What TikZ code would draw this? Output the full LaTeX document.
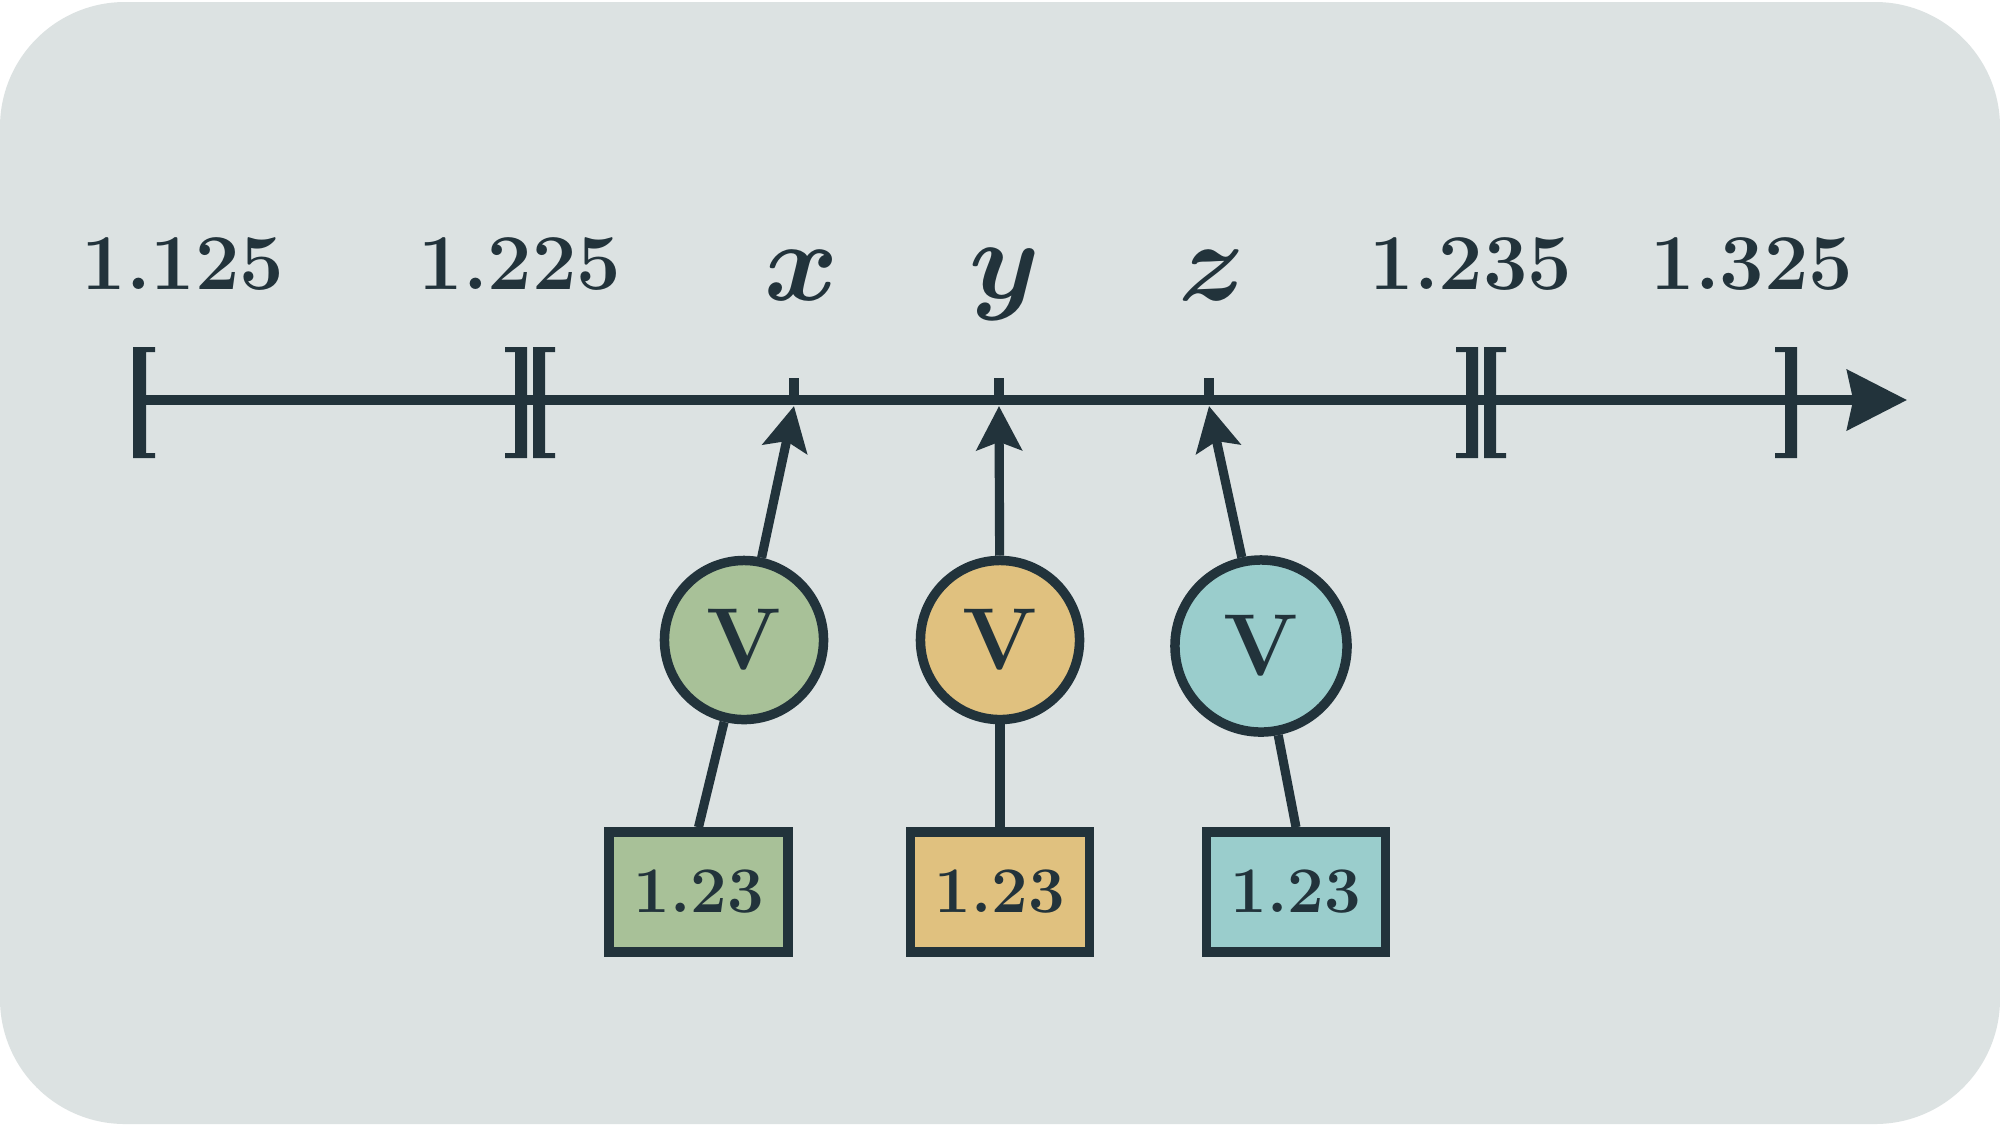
\documentclass[tikz,border=0pt]{standalone}
\usepackage{fix-cm}
\usetikzlibrary{arrows.meta}
\definecolor{bg}{HTML}{DCE2E2}
\definecolor{ink}{HTML}{22333B}
\definecolor{cgreen}{HTML}{A8C198}
\definecolor{corange}{HTML}{E0C17F}
\definecolor{cteal}{HTML}{9ACDCC}
\begin{document}
\begin{tikzpicture}[x=0.01cm,y=-0.01cm,
  bracketfill/.style={fill=ink},
  axisline/.style={draw=ink,line width=2.7pt,-{Stealth[length=17pt,width=17pt,inset=1.7pt]}},
  tickline/.style={draw=ink,line width=2.6pt},
  numlbl/.style={text=ink,anchor=base,inner sep=0pt,font=\fontsize{22.5}{26}\selectfont\bfseries},
  varlbl/.style={text=ink,anchor=base,inner sep=0pt,font=\fontsize{32}{36}\selectfont\boldmath},
  vnode/.style={circle,draw=ink,line width=2.7pt,inner sep=0pt,text=ink,font=\fontsize{25}{28}\selectfont\bfseries},
  valbox/.style={rectangle,draw=ink,line width=2.7pt,inner sep=0pt,minimum width=1.79cm,minimum height=1.20cm,text=ink,font=\fontsize{18.5}{21}\selectfont\bfseries},
  conn/.style={draw=ink,line width=2.6pt},
  pointer/.style={conn,-{Stealth[length=12.5pt,width=12.8pt,inset=2.3pt]}}
]
\useasboundingbox (0,0) rectangle (2000,1126);
\fill[white] (0,0) rectangle (2000,1126);
\fill[bg,rounded corners=1.25cm] (0,2) rectangle (2000,1124);

% axis
\coordinate (a0) at (146,400);
\coordinate (a1) at (1907,400);
\draw[axisline] (a0) -- (a1);

% brackets
\fill[bracketfill] (133,347) -- (155,347) -- (155,352) -- (146,352) -- (146,453) -- (155,453) -- (155,458) -- (133,458) -- cycle;
\fill[bracketfill] (527,347) -- (505,347) -- (505,352) -- (515,352) -- (515,453) -- (505,453) -- (505,458) -- (527,458) -- cycle;
\fill[bracketfill] (533,347) -- (555,347) -- (555,352) -- (545,352) -- (545,453) -- (555,453) -- (555,458) -- (533,458) -- cycle;
\fill[bracketfill] (1478,347) -- (1456,347) -- (1456,352) -- (1466,352) -- (1466,453) -- (1456,453) -- (1456,458) -- (1478,458) -- cycle;
\fill[bracketfill] (1484,347) -- (1506,347) -- (1506,352) -- (1496,352) -- (1496,453) -- (1506,453) -- (1506,458) -- (1484,458) -- cycle;
\fill[bracketfill] (1797,347) -- (1775,347) -- (1775,352) -- (1785,352) -- (1785,453) -- (1775,453) -- (1775,458) -- (1797,458) -- cycle;

% number labels
\node[numlbl] (n1) at (183,289) {1.125};
\node[numlbl] (n2) at (520,289) {1.225};
\node[numlbl] (n3) at (1471,289) {1.235};
\node[numlbl] (n4) at (1752,289) {1.325};

% variable labels
\node[varlbl] (lx) at (802,300) {$x$};
\node[varlbl] (ly) at (1005,298) {$y$};
\node[varlbl] (lz) at (1212,300) {$z$};

% ticks
\coordinate (tx0) at (794,378); \coordinate (tx1) at (794,401);
\coordinate (ty0) at (999,378); \coordinate (ty1) at (999,401);
\coordinate (tz0) at (1209,378); \coordinate (tz1) at (1209,401);
\draw[tickline] (tx0) -- (tx1);
\draw[tickline] (ty0) -- (ty1);
\draw[tickline] (tz0) -- (tz1);
\coordinate (px) at (794,406);
\coordinate (py) at (999,406);
\coordinate (pz) at (1209,406);

% circles
\node[vnode,fill=cgreen,minimum size=1.59cm] (g) at (744,640) {V};
\node[vnode,fill=corange,minimum size=1.59cm] (o) at (1000,640) {V};
\node[vnode,fill=cteal,minimum size=1.72cm] (t) at (1261,646) {V};

% boxes
\node[valbox,fill=cgreen] (bg1) at (698.5,892) {1.23};
\node[valbox,fill=corange] (bo1) at (1000,892) {1.23};
\node[valbox,fill=cteal] (bt1) at (1296,892) {1.23};

% connectors
\draw[pointer] (g) -- (px);
\draw[pointer] (o) -- (py);
\draw[pointer] (t) -- (pz);
\draw[conn] (g) -- (bg1.north);
\draw[conn] (o) -- (bo1.north);
\draw[conn] (t) -- (bt1.north);
\end{tikzpicture}
\end{document}
